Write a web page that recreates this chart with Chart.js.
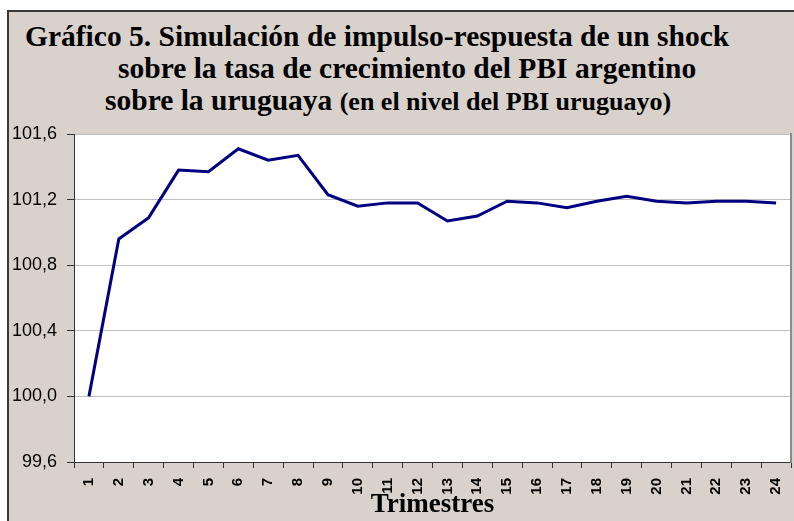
<!DOCTYPE html>
<html>
<head>
<meta charset="utf-8">
<script src="https://cdn.jsdelivr.net/npm/chart.js@4.4.1/dist/chart.umd.min.js"></script>
<style>
  html, body { margin: 0; padding: 0; background: #ffffff; }
  #wrap { position: relative; width: 794px; height: 521px; overflow: hidden; }
  #frame {
    position: absolute; left: 7px; top: 10px; width: 800px; height: 520px;
    background: #d9d1cb; border-left: 2px solid #3a3a3a; border-top: 2px solid #3a3a3a;
  }
  .t { position: absolute; font-family: "Liberation Serif", "Times New Roman", serif;
       font-weight: bold; font-size: 29.5px; line-height: 32px; color: #000; white-space: nowrap; }
  .t small { font-size: 26px; }
  #chart { position: absolute; left: 0; top: 0; }
</style>
</head>
<body>
<div id="wrap">
  <div id="frame"></div>
  <div class="t" style="left:25px; top:20px;">Gráfico 5. Simulación de impulso-respuesta de un shock</div>
  <div class="t" style="left:118px; top:52px;">sobre la tasa de crecimiento del PBI argentino</div>
  <div class="t" style="left:105px; top:84px;">sobre la uruguaya <small>(en el nivel del PBI uruguayo)</small></div>
  <canvas id="chart" width="794" height="521"></canvas>
</div>
<script>
// Trimestres 1..24
const quarters = ['1','2','3','4','5','6','7','8','9','10','11','12',
                  '13','14','15','16','17','18','19','20','21','22','23','24'];
// respuesta del PBI uruguayo (nivel)
const pbiUruguay = [100.00, 100.96, 101.09, 101.38, 101.37, 101.51, 101.44, 101.47,
                    101.23, 101.16, 101.18, 101.18, 101.07, 101.10, 101.19, 101.18,
                    101.15, 101.19, 101.22, 101.19, 101.18, 101.19, 101.19, 101.18];
const yTicks = [99.6, 100.0, 100.4, 100.8, 101.2, 101.6];

const plotBg = {
  id: 'plotBg',
  beforeDraw(chart) {
    const a = chart.chartArea;
    const c = chart.ctx;
    c.save();
    c.fillStyle = '#ffffff';
    c.fillRect(a.left, a.top, a.right - a.left, a.bottom - a.top);
    c.restore();
  }
};

const ctx = document.getElementById('chart').getContext('2d');
new Chart(ctx, {
  type: 'line',
  data: {
    labels: quarters,
    datasets: [{
      data: pbiUruguay,
      borderColor: '#000080',
      borderWidth: 3,
      pointRadius: 0,
      tension: 0,
      fill: false
    }]
  },
  options: {
    responsive: false,
    animation: false,
    layout: { padding: { left: 0, top: 134, right: 0, bottom: 0 } },
    plugins: { legend: { display: false }, tooltip: { enabled: false } },
    scales: {
      x: {
        offset: true,
        grid: { offset: true, drawOnChartArea: false, drawTicks: true, tickLength: 6, color: '#333333' },
        border: { color: '#333333', width: 1 },
        ticks: {
          minRotation: 90, maxRotation: 90, padding: 10, color: '#000',
          font: { family: 'Liberation Sans, Arial, sans-serif', size: 15, weight: 'bold' }
        },
        title: {
          display: true, text: 'Trimestres', color: '#000', padding: 0,
          font: { family: 'Liberation Serif, Times New Roman, serif', size: 27, weight: 'bold' }
        },
        afterFit(scale) {
          scale.height = 59;
          scale.paddingLeft = 0;
          scale.paddingRight = 0;
        }
      },
      y: {
        min: 99.6, max: 101.6,
        grid: { color: '#c0c0c0', tickColor: '#333333', tickLength: 7, lineWidth: 1 },
        border: { color: '#333333', width: 1 },
        ticks: {
          padding: 10, color: '#000',
          font: { family: 'Liberation Sans, Arial, sans-serif', size: 18 },
          callback: v => v.toFixed(1).replace('.', ',')
        },
        afterBuildTicks(scale) { scale.ticks = yTicks.map(v => ({ value: v })); },
        afterFit(scale) { scale.width = 74; }
      },
      y2: {
        position: 'right',
        min: 99.6, max: 101.6,
        grid: { display: false },
        ticks: { display: false },
        border: { color: '#8c8c8c', width: 2 },
        afterFit(scale) { scale.width = 3; }
      }
    }
  },
  plugins: [plotBg]
});
</script>
</body>
</html>
